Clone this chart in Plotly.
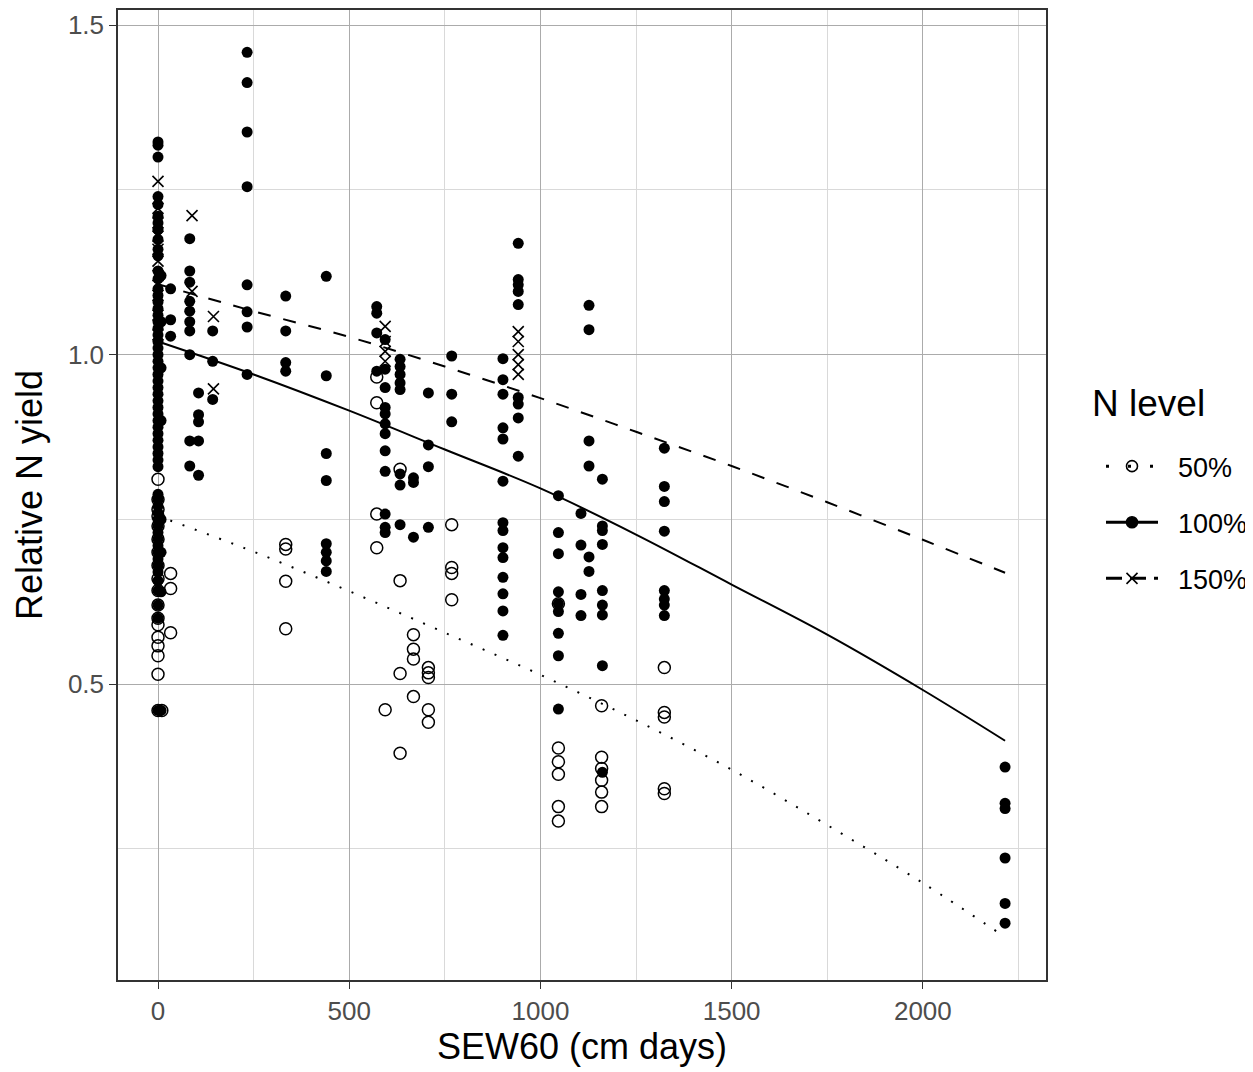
import plotly.graph_objects as go

# ---- data ----
# 50% N level (open circles)
x50 = [0]*18 + [10] + [33]*3 + [334]*4 + [572]*4 + [594] + [633]*4 + [668]*4 + [707]*5 + [768]*4 + [1047]*6 + [1160]*6 + [1324]*5
y50 = [0.811, 0.78, 0.765, 0.755, 0.74, 0.72, 0.70, 0.68, 0.66, 0.642, 0.62, 0.60, 0.59, 0.571, 0.558, 0.543, 0.515, 0.46,
       0.46,
       0.668, 0.645, 0.578,
       0.712, 0.705, 0.656, 0.584,
       0.966, 0.927, 0.758, 0.707,
       0.461,
       0.826, 0.657, 0.516, 0.395,
       0.575, 0.553, 0.538, 0.481,
       0.525, 0.517, 0.51, 0.461, 0.442,
       0.742, 0.677, 0.668, 0.628,
       0.622, 0.403, 0.382, 0.363, 0.314, 0.292,
       0.467, 0.389, 0.372, 0.354, 0.336, 0.314,
       0.525, 0.457, 0.45, 0.341, 0.334]

# 100% N level (filled circles)
x100 = ([0]*59 + [8]*8 + [33]*3 + [83]*10 + [106]*5 + [143]*3 + [233]*8 + [334]*4 + [440]*8 +
        [572]*4 + [594]*12 + [633]*8 + [668]*3 + [707]*4 + [768]*3 + [902]*14 + [942]*9 +
        [1047]*9 + [1106]*4 + [1127]*6 + [1162]*9 + [1324]*8 + [2215]*6)
y100 = [1.323, 1.318, 1.30, 1.24, 1.228, 1.21, 1.20, 1.19, 1.175, 1.16, 1.15, 1.127, 1.115, 1.10, 1.09, 1.08,
        1.07, 1.06, 1.05, 1.04, 1.03, 1.02, 1.01, 1.0, 0.99, 0.98, 0.97, 0.96, 0.95, 0.94, 0.93, 0.92, 0.91,
        0.90, 0.89, 0.88, 0.87, 0.86, 0.85, 0.84, 0.83, 0.788, 0.78, 0.77, 0.76, 0.75, 0.74, 0.73, 0.72, 0.71,
        0.70, 0.69, 0.68, 0.67, 0.657, 0.642, 0.62, 0.60, 0.46,
        1.12, 1.05, 0.98, 0.90, 0.75, 0.70, 0.64, 0.46,
        1.10, 1.053, 1.028,
        1.176, 1.127, 1.11, 1.081, 1.066, 1.05, 1.036, 1.0, 0.869, 0.831,
        0.942, 0.909, 0.898, 0.869, 0.817,
        1.036, 0.99, 0.932,
        1.459, 1.413, 1.338, 1.255, 1.106, 1.065, 1.042, 0.97,
        1.089, 1.036, 0.988, 0.975,
        1.119, 0.968, 0.85, 0.809, 0.713, 0.70, 0.687, 0.671,
        1.073, 1.063, 1.033, 0.975,
        1.023, 0.978, 0.95, 0.92, 0.91, 0.895, 0.88, 0.854, 0.823, 0.758, 0.738, 0.73,
        0.993, 0.982, 0.97, 0.957, 0.947, 0.819, 0.802, 0.742,
        0.813, 0.806, 0.723,
        0.942, 0.863, 0.83, 0.738,
        0.998, 0.94, 0.898,
        0.994, 0.962, 0.94, 0.889, 0.872, 0.808, 0.745, 0.733, 0.707, 0.692, 0.662, 0.637, 0.611, 0.574,
        1.169, 1.114, 1.106, 1.096, 1.076, 0.935, 0.925, 0.904, 0.846,
        0.786, 0.73, 0.698, 0.64, 0.622, 0.61, 0.577, 0.543, 0.462,
        0.759, 0.711, 0.636, 0.604,
        1.075, 1.038, 0.869, 0.831, 0.693, 0.671,
        0.811, 0.74, 0.733, 0.712, 0.642, 0.62, 0.605, 0.528, 0.366,
        0.858, 0.80, 0.777, 0.732, 0.642, 0.629, 0.62, 0.604,
        0.374, 0.319, 0.311, 0.236, 0.167, 0.137]

# 150% N level (crosses)
x150 = [0]*10 + [89]*2 + [145]*2 + [594]*4 + [942]*5
y150 = [1.263, 1.222, 1.20, 1.18, 1.16, 1.142, 1.12, 1.09, 1.06, 1.03,
        1.211, 1.096,
        1.058, 0.948,
        1.043, 1.02, 1.005, 0.99,
        1.035, 1.02, 1.0, 0.985, 0.97]

# fitted curves
xfit = [0, 250, 500, 750, 1000, 1250, 1500, 1750, 2000, 2215]
fit50 = [0.755, 0.701, 0.641, 0.578, 0.514, 0.445, 0.370, 0.286, 0.198, 0.116]
fit100 = [1.020, 0.970, 0.915, 0.856, 0.797, 0.727, 0.651, 0.575, 0.491, 0.414]
fit150 = [1.107, 1.066, 1.027, 0.982, 0.934, 0.883, 0.831, 0.776, 0.719, 0.669]

levels = ["50%", "100%", "150%"]

BLACK = "black"
FONT = "Liberation Sans, Arial, Helvetica, sans-serif"
NBSP = "\u00a0\u00a0"

fig = go.Figure()

# points
fig.add_trace(go.Scatter(x=x50, y=y50, mode="markers", showlegend=False,
                         marker=dict(symbol="circle-open", size=12, color=BLACK, line=dict(width=1.5, color=BLACK))))
fig.add_trace(go.Scatter(x=x100, y=y100, mode="markers", showlegend=False,
                         marker=dict(symbol="circle", size=11, color=BLACK, line=dict(width=0))))
fig.add_trace(go.Scatter(x=x150, y=y150, mode="markers", showlegend=False,
                         marker=dict(symbol="x-thin", size=11, color=BLACK, line=dict(width=1.6, color=BLACK))))

# lines
fig.add_trace(go.Scatter(x=xfit, y=fit50, mode="lines", showlegend=False,
                         line=dict(color=BLACK, width=2, dash="2px,11px", shape="spline")))
fig.add_trace(go.Scatter(x=xfit, y=fit100, mode="lines", showlegend=False,
                         line=dict(color=BLACK, width=2, shape="spline")))
fig.add_trace(go.Scatter(x=xfit, y=fit150, mode="lines", showlegend=False,
                         line=dict(color=BLACK, width=2, dash="13px,13px", shape="spline")))

# legend keys
leg_styles = [
    dict(dash="3px,19px", symbol="circle-open", size=11),
    dict(dash="solid", symbol="circle", size=11),
    dict(dash="16px,8px", symbol="x-thin", size=11),
]
for name, st in zip(levels, leg_styles):
    fig.add_trace(go.Scatter(x=[None], y=[None], mode="lines+markers", name=NBSP + name,
                             legendgroup=name,
                             line=dict(color=BLACK, width=3, dash=st["dash"]),
                             marker=dict(symbol=st["symbol"], size=st["size"], color=BLACK,
                                         line=dict(width=1.6, color=BLACK))))

axis_common = dict(
    showline=True, linecolor="#333333", linewidth=1.5, mirror=True,
    ticks="outside", ticklen=7, tickcolor="#333333", tickwidth=1,
    tickfont=dict(family=FONT, size=26, color="#4d4d4d"),
    showgrid=True, gridcolor="#ababab", gridwidth=1,
    zeroline=False,
)

fig.update_xaxes(**axis_common, range=[-104.6, 2322], tick0=0, dtick=500,
                 minor=dict(dtick=250, showgrid=True, gridcolor="#d9d9d9", gridwidth=1),
                 title=dict(text="SEW60 (cm days)", font=dict(family=FONT, size=36, color="black"), standoff=9))
fig.update_yaxes(**axis_common, range=[0.0508, 1.5232], tick0=0, dtick=0.5, tickformat=".1f",
                 minor=dict(dtick=0.25, showgrid=True, gridcolor="#d9d9d9", gridwidth=1),
                 title=dict(text="Relative N yield", font=dict(family=FONT, size=36, color="black"), standoff=14))

# page body adds an 8px offset, so the figure is sized to fit the window
fig.update_layout(
    width=1245, height=1064,
    margin=dict(l=110, r=207, t=0, b=92),
    plot_bgcolor="white", paper_bgcolor="white",
    font=dict(family=FONT, color="black"),
    legend=dict(
        font=dict(family=FONT, size=27, color="black"),
        x=(1101 - 118) / 928, y=(980 - 441) / 972, xanchor="left", yanchor="top",
        itemwidth=52, tracegroupgap=18, traceorder="grouped",
        bgcolor="rgba(0,0,0,0)",
    ),
    annotations=[dict(text="N level", xref="paper", yref="paper",
                      x=(1090 - 118) / 928, y=(980 - 402) / 972, xanchor="left", yanchor="middle",
                      showarrow=False, font=dict(family=FONT, size=37, color="black"))],
)

fig.write_html("out.html")
